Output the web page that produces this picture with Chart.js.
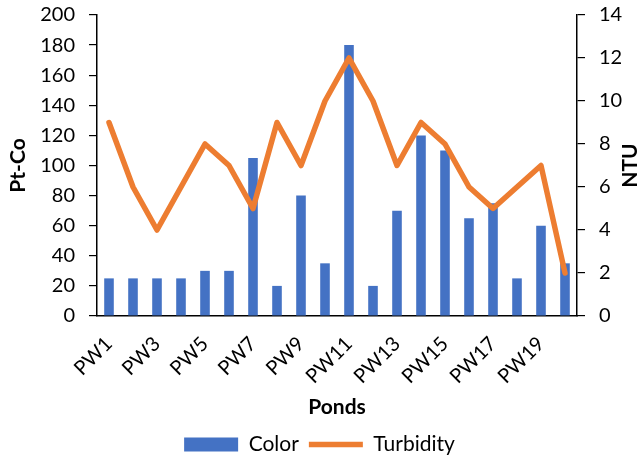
<!DOCTYPE html>
<html>
<head>
<meta charset="utf-8">
<script src="https://cdn.jsdelivr.net/npm/chart.js@4"></script>
<style>
  html, body { margin: 0; padding: 0; background: #fff; }
  #wrap { width: 639px; height: 459px; }
</style>
</head>
<body>
<div id="wrap"><canvas id="c" width="639" height="459"></canvas></div>
<script>
// Pond labels
const ponds = ['PW1','PW2','PW3','PW4','PW5','PW6','PW7','PW8','PW9','PW10',
               'PW11','PW12','PW13','PW14','PW15','PW16','PW17','PW18','PW19','PW20'];
// Color (Pt-Co)
const colorValues = [25, 25, 25, 25, 30, 30, 105, 20, 80, 35,
                     180, 20, 70, 120, 110, 65, 75, 25, 60, 35];
// Turbidity (NTU)
const turbidityValues = [9, 6, 4, 6, 8, 7, 5, 9, 7, 10,
                         12, 10, 7, 9, 8, 6, 5, 6, 7, 2];
// Axis titles
const leftTitle = 'Pt-Co';
const rightTitle = 'NTU';
const xTitle = 'Ponds';

const FONT = 'Lato, "Open Sans", sans-serif';
const tickFont = { family: FONT, size: 20 };
const titleFont = { family: FONT, size: 21, weight: 'bold' };

// Right-hand axis title, written bottom-to-top like the left one
const rightTitlePlugin = {
  id: 'rightTitle',
  afterDraw(chart) {
    const { ctx, chartArea } = chart;
    ctx.save();
    ctx.translate(630, (chartArea.top + chartArea.bottom) / 2);
    ctx.rotate(-Math.PI / 2);
    ctx.font = 'bold 21px ' + FONT;
    ctx.fillStyle = '#000';
    ctx.textAlign = 'center';
    ctx.textBaseline = 'middle';
    ctx.fillText(rightTitle, 0, 0);
    ctx.restore();
  }
};

// Fixed axis widths; vertical axes need no extra space above/below
const fixWidth = (w) => (s) => { s.width = w; s.paddingTop = 0; s.paddingBottom = 0; };

new Chart(document.getElementById('c'), {
  data: {
    labels: ponds,
    datasets: [
      {
        type: 'bar',
        label: 'Color',
        data: colorValues,
        backgroundColor: '#4472C4',
        borderWidth: 0,
        categoryPercentage: 1,
        barPercentage: 0.40,
        yAxisID: 'y',
        pointStyle: 'rect',
        order: 2
      },
      {
        type: 'line',
        label: 'Turbidity',
        data: turbidityValues,
        borderColor: '#ED7D31',
        backgroundColor: '#ED7D31',
        borderWidth: 5.5,
        borderCapStyle: 'round',
        borderJoinStyle: 'round',
        pointRadius: 0,
        pointStyle: 'line',
        tension: 0,
        yAxisID: 'y2',
        order: 1
      }
    ]
  },
  plugins: [rightTitlePlugin],
  options: {
    responsive: false,
    animation: false,
    layout: { padding: { top: 15, right: 0, left: 0, bottom: -6 } },
    plugins: {
      tooltip: { enabled: false },
      legend: {
        position: 'bottom',
        labels: {
          usePointStyle: true,
          pointStyleWidth: 54,
          boxHeight: 14,
          padding: 10,
          color: '#000',
          font: { family: FONT, size: 21 },
          sort: (a, b) => a.datasetIndex - b.datasetIndex
        }
      }
    },
    scales: {
      x: {
        offset: true,
        afterFit: (s) => { s.height = 108; },
        grid: { display: false },
        border: { display: true, color: '#000', width: 1.5 },
        ticks: {
          color: '#000',
          font: tickFont,
          autoSkip: false,
          minRotation: 45,
          maxRotation: 45,
          padding: 8,
          callback: (v, i) => (i % 2 === 0 ? ponds[i] : '')
        },
        title: { display: true, text: xTitle, color: '#000', font: titleFont, padding: { top: 0, bottom: 4 } }
      },
      y: {
        position: 'left',
        min: 0,
        max: 200,
        afterFit: fixWidth(97),
        grid: { drawOnChartArea: false, color: '#000', tickLength: 8, lineWidth: 1.2 },
        border: { display: true, color: '#000', width: 1.5 },
        ticks: { stepSize: 20, color: '#000', font: tickFont, padding: 14 },
        title: { display: true, text: leftTitle, color: '#000', font: titleFont, padding: { top: 6, bottom: 0 } }
      },
      y2: {
        position: 'right',
        min: 0,
        max: 14,
        afterFit: fixWidth(62),
        grid: { drawOnChartArea: false, color: '#000', tickLength: 8, lineWidth: 1.2 },
        border: { display: true, color: '#000', width: 1.5 },
        ticks: { stepSize: 2, color: '#000', font: tickFont, padding: 14 },
        title: { display: false }
      }
    }
  }
});
</script>
</body>
</html>
